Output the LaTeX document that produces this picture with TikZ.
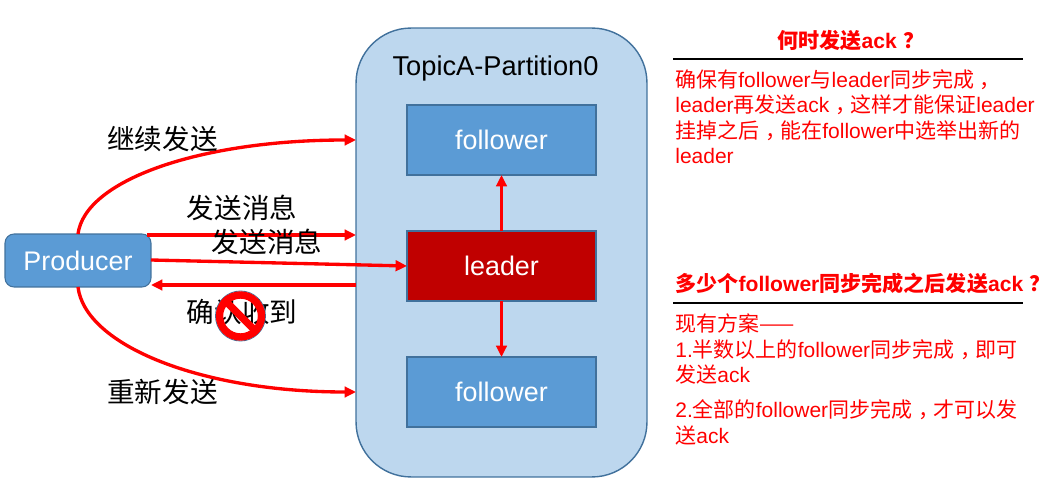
\documentclass[tikz,border=0pt]{standalone}
\usepackage{fontspec}
\setmainfont{Liberation Sans}
\newfontfamily\cjk{Noto Sans CJK SC}
\newcommand{\zh}[1]{{\cjk #1}}
\newcommand{\zhcomma}{\hskip .28em\zh{，}\hskip -.28em}
\newcommand{\zhquest}{\hskip .3em\zh{？}}
\usetikzlibrary{arrows.meta}

\definecolor{partfill}{HTML}{BDD7EE}
\definecolor{boxblue}{HTML}{5B9BD5}
\definecolor{boxred}{HTML}{C00000}
\definecolor{boxline}{HTML}{41719C}

\tikzset{
    boxnode/.style = {draw = boxline, line width = 0.6pt, text = white, font = \fontsize{15.3}{18}\selectfont,
        minimum width = 3.78cm, minimum height = 1.4cm, inner sep = 0pt, outer sep = 0pt},
    redline/.style = {color = red, line width = 1.9pt},
    redarrow/.style = {redline, -{Triangle[length = 6.5pt, width = 6pt]}},
    bigtext/.style = {font = \fontsize{15.7}{18}\selectfont, inner sep = 0pt},
    notetext/.style = {color = red, anchor = west, align = left, inner sep = 0pt,
        font = \fontsize{11.95}{14.5}\selectfont},
    notehead/.style = {color = red, anchor = west, inner sep = 0pt, font = \fontsize{12}{14.7}\selectfont\bfseries}
}

\begin{document}
\begin{tikzpicture}[x = 0.02cm, y = -0.02cm]
    \useasboundingbox (0, 0) rectangle (1064, 496);

    \node [draw = boxline, line width = 0.8pt, fill = partfill, rounded corners = 1.1cm,
        minimum width = 5.82cm, minimum height = 8.98cm, inner sep = 0pt, outer sep = 0pt] (partition) at (501.5, 252.5) {};
    \node [font = \fontsize{15.5}{18}\selectfont, inner sep = 0pt] (title) at (495.5, 68) {TopicA-Partition0};

    \node [boxnode, fill = boxblue] (followerA) at (501.5, 140) {follower};
    \node [boxnode, fill = boxred] (leader) at (501.5, 266) {leader};
    \node [boxnode, fill = boxblue] (followerB) at (501.5, 392) {follower};

    \node [boxnode, fill = boxblue, rounded corners = 0.18cm, minimum width = 2.92cm, minimum height = 1.06cm] (producer) at (78, 260.5) {Producer};

    \coordinate (topin) at (356, 140);
    \coordinate (sendout) at (147, 235);
    \coordinate (sendin) at (356, 235);
    \coordinate (ackout) at (356, 285);
    \coordinate (ackin) at (151, 285);
    \coordinate (bottomin) at (356, 392);
    \coordinate (leaderout) at (151, 260);

    \draw [redarrow] (producer.north) .. controls (85, 180) and (200, 140) .. (topin);
    \draw [redarrow] (sendout) -- (sendin);
    \draw [redarrow] (leaderout) -- (leader.west);
    \draw [redarrow] (ackout) -- (ackin);
    \draw [redarrow] (producer.south) .. controls (85, 345) and (200, 392) .. (bottomin);
    \draw [redarrow] (leader.north) -- (followerA.south);
    \draw [redarrow] (leader.south) -- (followerB.north);

    \node [bigtext] (resume) at (162.5, 139) {\zh{继续发送}};
    \node [bigtext] (sendA) at (242, 208) {\zh{发送消息}};
    \node [bigtext] (sendB) at (267, 242) {\zh{发送消息}};
    \node [bigtext] (ack) at (242, 312) {\zh{确认收到}};
    \node [bigtext] (resend) at (162.5, 392) {\zh{重新发送}};

    \node [circle, draw = boxline, line width = 0.5pt, minimum size = 1cm, inner sep = 0pt] (forbidA) at (240.5, 316) {};
    \node [circle, draw = red, line width = 4.2pt, minimum size = 0.84cm, inner sep = 0pt] (forbidB) at (240.5, 316) {};
    \draw [color = red, line width = 4.2pt] (forbidB.135) -- (forbidB.-45);

    \node [notehead] (whenhead) at (777, 41) {\zh{何时发送}ack\zhquest};
    \coordinate (whenleft) at (673, 59);
    \coordinate (whenright) at (1023, 59);
    \draw [line width = 1.4pt] (whenleft) -- (whenright);
    \node [notetext] (whenbody) at (675, 116.5) {\zh{确保有}follower\zh{与}leader\zh{同步完成}\zhcomma\\
        leader\zh{再发送}ack\zhcomma\zh{这样才能保证}leader\\
        \zh{挂掉之后}\zhcomma\zh{能在}follower\zh{中选举出新的}\\
        leader};

    \node [notehead] (howhead) at (675, 283) {\zh{多少个}follower\zh{同步完成之后发送}ack\zhquest};
    \coordinate (howleft) at (673, 303);
    \coordinate (howright) at (1023, 303);
    \draw [line width = 1.4pt] (howleft) -- (howright);
    \node [notetext] (howbodyA) at (675, 349) {\zh{现有方案——}\\
        1.\zh{半数以上的}follower\zh{同步完成}\zhcomma\zh{即可}\\
        \zh{发送}ack};
    \node [notetext] (howbodyB) at (675, 422.5) {2.\zh{全部的}follower\zh{同步完成}\zhcomma\zh{才可以发}\\
        \zh{送}ack};

\end{tikzpicture}
\end{document}
